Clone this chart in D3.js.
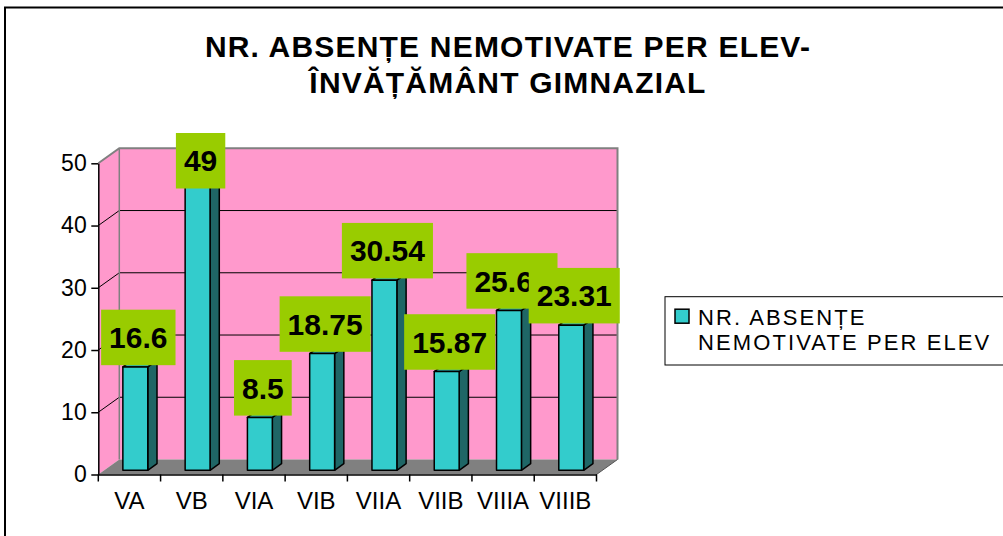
<!DOCTYPE html>
<html>
<head>
<meta charset="utf-8">
<script src="https://cdn.jsdelivr.net/npm/d3@7"></script>
<style>
  html, body { margin: 0; padding: 0; background: #fff; }
  svg { display: block; font-family: "Liberation Sans", Arial, sans-serif; }
</style>
</head>
<body>
<div id="chart"></div>
<script>
// chart data
const categories = ['VA', 'VB', 'VIA', 'VIB', 'VIIA', 'VIIB', 'VIIIA', 'VIIIB'];
const values = [16.6, 49, 8.5, 18.75, 30.54, 15.87, 25.68, 23.31];
const yTicks = [0, 10, 20, 30, 40, 50];
const titleLines = ['NR. ABSENȚE NEMOTIVATE PER ELEV-', 'ÎNVĂȚĂMÂNT GIMNAZIAL'];
const legendLines = ['NR. ABSENȚE', 'NEMOTIVATE PER ELEV'];

const width = 1003, height = 536;
const depth = { dx: 21, dy: -15 };   // 3D depth of the plot box
const barFront = 0.28, barBack = 0.72; // bar position inside the depth

const colors = {
  wall: '#FF99CC',
  floor: '#808080',
  edge: '#808080',
  barFront: '#33CCCC',
  barSide: '#1F6666',
  barTop: '#2DB0B0',
  label: '#99CC00'
};

const svg = d3.select('#chart')
  .append('svg')
  .attr('width', width)
  .attr('height', height);

// outer chart frame
svg.append('rect')
  .attr('x', 5).attr('y', 7.5)
  .attr('width', 1010).attr('height', 560)
  .attr('fill', 'none')
  .attr('stroke', '#000')
  .attr('stroke-width', 2);

// title
svg.append('g')
  .selectAll('text')
  .data(titleLines)
  .join('text')
  .attr('x', 508)
  .attr('y', (d, i) => 56.7 + i * 36)
  .attr('text-anchor', 'middle')
  .style('font-size', '30px')
  .style('font-weight', 'bold')
  .style('letter-spacing', '1.2px')
  .text(d => d);

// scales
const x = d3.scaleBand().domain(categories).range([98.3, 596.5]).padding(0);
const y = d3.scaleLinear().domain([0, 50]).range([474.5, 163.3]);

const x0 = x.range()[0], x1 = x.range()[1];
const yTop = y(50), yBot = y(0);
const pt = (px, py, f = 1) => [px + depth.dx * f, py + depth.dy * f];
const poly = pts => 'M' + pts.map(p => p.join(',')).join('L') + 'Z';

const plot = svg.append('g');

// back wall
plot.append('path')
  .attr('d', poly([pt(x0, yTop), pt(x1, yTop), pt(x1, yBot), pt(x0, yBot)]))
  .attr('fill', colors.wall);

// left side wall
plot.append('path')
  .attr('d', poly([[x0, yTop], pt(x0, yTop), pt(x0, yBot), [x0, yBot]]))
  .attr('fill', colors.wall);

// floor
plot.append('path')
  .attr('d', poly([[x0, yBot], [x1, yBot], pt(x1, yBot), pt(x0, yBot)]))
  .attr('fill', colors.floor);

// gridlines on back and side walls
const grid = plot.append('g');
yTicks.filter(t => t > 0 && t < 50).forEach(t => {
  grid.append('path')
    .attr('d', `M${x0},${y(t)}L${pt(x0, y(t)).join(',')}L${pt(x1, y(t)).join(',')}`)
    .attr('fill', 'none')
    .attr('stroke', '#000')
    .attr('stroke-width', 1);
});

// wall edges (gray)
plot.append('path')
  .attr('d', `M${x0},${yTop}L${pt(x0, yTop).join(',')}L${pt(x1, yTop).join(',')}L${pt(x1, yBot).join(',')}`)
  .attr('fill', 'none')
  .attr('stroke', colors.edge)
  .attr('stroke-width', 2);
plot.append('path')
  .attr('d', `M${pt(x0, yTop).join(',')}L${pt(x0, yBot).join(',')}`)
  .attr('fill', 'none')
  .attr('stroke', colors.edge)
  .attr('stroke-width', 1.5);
plot.append('path')
  .attr('d', `M${x1},${yBot}L${pt(x1, yBot).join(',')}`)
  .attr('fill', 'none')
  .attr('stroke', '#555')
  .attr('stroke-width', 1);

// bars
const bw = x.bandwidth() * 0.4;
const bars = values.map((v, i) => {
  const bx = x(categories[i]) + (x.bandwidth() - bw) / 2 + depth.dx * barFront;
  const by = y(v) + depth.dy * barFront;
  const bb = yBot + depth.dy * barFront;
  return { v, i, bx, by, bb };
});
const ddx = depth.dx * (barBack - barFront), ddy = depth.dy * (barBack - barFront);

const barG = plot.selectAll('.bar')
  .data(bars)
  .join('g')
  .attr('class', 'bar')
  .attr('stroke', '#000')
  .attr('stroke-width', 1.5)
  .attr('stroke-linejoin', 'round');

barG.append('path')
  .attr('d', d => poly([[d.bx + bw, d.by], [d.bx + bw + ddx, d.by + ddy], [d.bx + bw + ddx, d.bb + ddy], [d.bx + bw, d.bb]]))
  .attr('fill', colors.barSide);
barG.append('path')
  .attr('d', d => poly([[d.bx, d.by], [d.bx + ddx, d.by + ddy], [d.bx + bw + ddx, d.by + ddy], [d.bx + bw, d.by]]))
  .attr('fill', colors.barTop);
barG.append('rect')
  .attr('x', d => d.bx)
  .attr('y', d => d.by)
  .attr('width', bw)
  .attr('height', d => d.bb - d.by)
  .attr('fill', colors.barFront);

// y axis
const yAxis = svg.append('g')
  .attr('transform', `translate(${x0},0)`)
  .call(d3.axisLeft(y).tickValues(yTicks).tickSize(7).tickSizeOuter(0).tickPadding(4.6));
yAxis.select('.domain').attr('stroke', '#000').attr('stroke-width', 1.5);
yAxis.selectAll('line').attr('stroke', '#000').attr('stroke-width', 1.5);
yAxis.selectAll('text')
  .attr('fill', '#000')
  .style('font-size', '23px')
  .style('font-family', '"Liberation Sans", Arial, sans-serif');

// x axis: labels centered, ticks on band boundaries
const xAxis = svg.append('g')
  .attr('transform', `translate(0,${yBot})`)
  .call(d3.axisBottom(x).tickSize(0).tickSizeOuter(0).tickPadding(17));
xAxis.select('.domain').attr('stroke', '#000').attr('stroke-width', 1.5);
xAxis.selectAll('text')
  .attr('fill', '#000')
  .style('font-size', '24px')
  .style('font-family', '"Liberation Sans", Arial, sans-serif');
xAxis.selectAll('.edge-tick')
  .data(categories.map(c => x(c)).concat([x1]))
  .join('line')
  .attr('class', 'edge-tick')
  .attr('x1', d => d).attr('x2', d => d)
  .attr('y1', 0).attr('y2', 7)
  .attr('stroke', '#000')
  .attr('stroke-width', 1.5);

// data labels
const labelG = svg.append('g');
const topLimit = 133;
bars.forEach(d => {
  const g = labelG.append('g');
  const rect = g.append('rect').attr('fill', colors.label);
  const text = g.append('text')
    .attr('text-anchor', 'middle')
    .style('font-size', '30px')
    .style('font-weight', 'bold')
    .text(String(d.v));
  const tw = text.node().getComputedTextLength();
  const w = tw + 16, h = 55.5;
  const cx = d.bx + bw / 2 + 3;
  let bottom = y(d.v) - 6;
  if (bottom - h < topLimit) bottom = topLimit + h;
  rect.attr('x', cx - w / 2).attr('y', bottom - h).attr('width', w).attr('height', h);
  text.attr('x', cx).attr('y', bottom - h / 2 + 10.7);
});

// legend
const legend = svg.append('g').attr('transform', 'translate(665,296.7)');
legend.append('rect')
  .attr('width', 360).attr('height', 68.3)
  .attr('fill', '#fff')
  .attr('stroke', '#000')
  .attr('stroke-width', 1);
legend.append('rect')
  .attr('x', 10).attr('y', 12.5)
  .attr('width', 14).attr('height', 14)
  .attr('fill', colors.barFront)
  .attr('stroke', '#000')
  .attr('stroke-width', 1.5);
legend.selectAll('.legend-text')
  .data(legendLines)
  .join('text')
  .attr('class', 'legend-text')
  .attr('x', 33)
  .attr('y', (d, i) => 28.5 + i * 25)
  .style('font-size', '22px')
  .style('letter-spacing', '2.1px')
  .text(d => d);
</script>
</body>
</html>
